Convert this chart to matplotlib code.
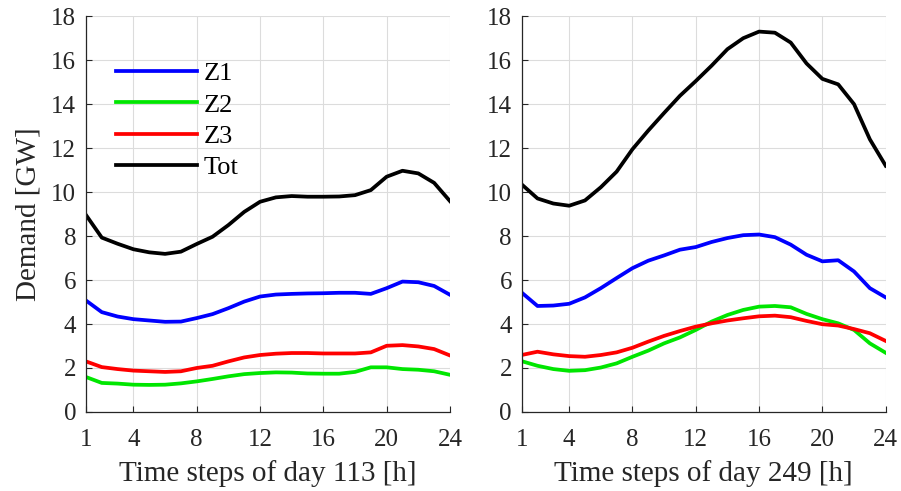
import matplotlib
matplotlib.use("Agg")
import matplotlib.pyplot as plt

hours = list(range(1, 25))

# Day 113
z1_113 = [5.07, 4.54, 4.34, 4.22, 4.16, 4.10, 4.11, 4.27, 4.45, 4.72, 5.02, 5.25,
          5.34, 5.37, 5.39, 5.40, 5.42, 5.42, 5.37, 5.63, 5.93, 5.90, 5.73, 5.33]
z2_113 = [1.59, 1.32, 1.29, 1.24, 1.23, 1.24, 1.30, 1.39, 1.50, 1.62, 1.72, 1.77,
          1.80, 1.79, 1.75, 1.74, 1.74, 1.82, 2.03, 2.03, 1.95, 1.92, 1.85, 1.69]
z3_113 = [2.30, 2.04, 1.95, 1.88, 1.85, 1.82, 1.85, 2.00, 2.10, 2.30, 2.48, 2.59,
          2.65, 2.68, 2.68, 2.66, 2.66, 2.66, 2.71, 3.01, 3.04, 2.98, 2.86, 2.57]
tot_113 = [8.96, 7.93, 7.65, 7.40, 7.26, 7.19, 7.29, 7.64, 7.97, 8.50, 9.10, 9.56,
           9.76, 9.82, 9.79, 9.79, 9.80, 9.86, 10.09, 10.70, 10.97, 10.85, 10.42, 9.59]

# Day 249
z1_249 = [5.43, 4.82, 4.84, 4.92, 5.21, 5.63, 6.09, 6.54, 6.88, 7.12, 7.38, 7.50,
          7.73, 7.91, 8.04, 8.07, 7.95, 7.61, 7.15, 6.85, 6.90, 6.39, 5.63, 5.21]
z2_249 = [2.31, 2.10, 1.95, 1.87, 1.90, 2.02, 2.21, 2.51, 2.79, 3.12, 3.39, 3.73,
          4.11, 4.41, 4.64, 4.79, 4.82, 4.76, 4.46, 4.22, 4.03, 3.73, 3.12, 2.69]
z3_249 = [2.59, 2.74, 2.62, 2.54, 2.51, 2.59, 2.71, 2.92, 3.20, 3.46, 3.68, 3.88,
          4.03, 4.16, 4.26, 4.35, 4.38, 4.31, 4.14, 3.99, 3.93, 3.77, 3.58, 3.23]
tot_249 = [10.35, 9.71, 9.48, 9.38, 9.62, 10.22, 10.93, 11.95, 12.80, 13.60, 14.38, 15.05,
           15.75, 16.50, 17.00, 17.30, 17.25, 16.80, 15.85, 15.15, 14.90, 14.00, 12.40, 11.20]

xticks = [1, 4, 8, 12, 16, 20, 24]
yticks = list(range(0, 19, 2))
series_names = ["Z1", "Z2", "Z3", "Tot"]
colors = ["#0000ff", "#00e600", "#ff0000", "#000000"]

plt.rcParams["font.family"] = ["Liberation Serif", "DejaVu Serif"]

fig = plt.figure(figsize=(9.01, 4.91), dpi=100)
ax1 = fig.add_axes([0.0954, 0.161, 0.404, 0.806])
ax2 = fig.add_axes([0.579, 0.161, 0.404, 0.806])

data = [(ax1, [z1_113, z2_113, z3_113, tot_113], "Time steps of day 113 [h]"),
        (ax2, [z1_249, z2_249, z3_249, tot_249], "Time steps of day 249 [h]")]

for ax, series, xl in data:
    for s, name, c in zip(series, series_names, colors):
        ax.plot(hours, s, color=c, lw=2.7, label=name)
    ax.set_xlim(1, 24)
    ax.set_ylim(0, 18)
    ax.set_xticks(xticks)
    ax.set_yticks(yticks)
    ax.grid(True, color="#dcdcdc", lw=0.8)
    ax.set_axisbelow(True)
    for sp in ["top", "right"]:
        ax.spines[sp].set_visible(False)
    for sp in ["left", "bottom"]:
        ax.spines[sp].set_color("#262626")
        ax.spines[sp].set_linewidth(0.9)
    ax.tick_params(direction="in", length=4, labelsize=18, colors="#262626",
                   labelcolor="#262626")
    ax.tick_params(axis="x", pad=12)
    ax.tick_params(axis="y", pad=7)
    ax.set_xlabel(xl, fontsize=21, color="#262626", labelpad=7)

ax1.set_ylabel("Demand [GW]", fontsize=21, color="#262626", labelpad=7)
ax1.legend(loc="upper left", bbox_to_anchor=(0.082, 0.885), frameon=False,
           fontsize=19, handlelength=3.07, handletextpad=0.25, labelspacing=0.3,
           borderaxespad=0, borderpad=0)

fig.savefig("out.png", dpi=100)
